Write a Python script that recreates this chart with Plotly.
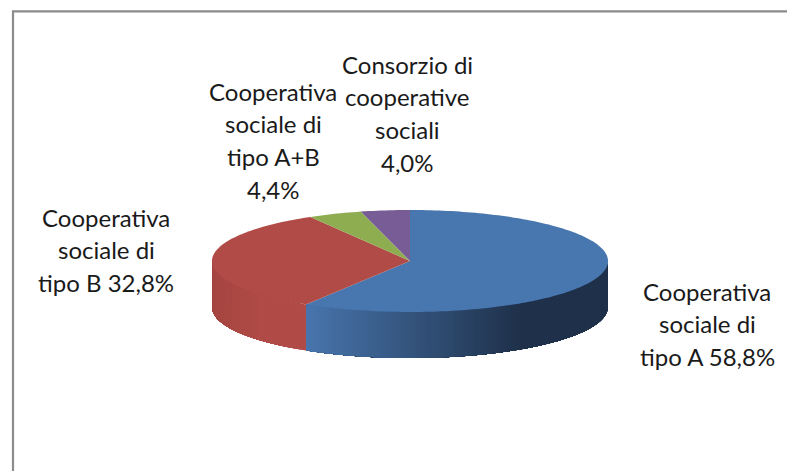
import math
import plotly.graph_objects as go

W, H = 787, 471

categories = ["Cooperativa sociale di tipo A", "Cooperativa sociale di tipo B",
              "Cooperativa sociale di tipo A+B", "Consorzio di cooperative sociali"]
values = [58.8, 32.8, 4.4, 4.0]
value_labels = ["58,8%", "32,8%", "4,4%", "4,0%"]
colors = ["#4876AE", "#B14B47", "#8EAC50", "#775C96"]

# pixel geometry of the tilted pie
cx, cy = 410, 261
rx, ry = 198, 51
depth = 46


def point(a, drop=0):
    # a in degrees, clockwise from 12 o'clock
    r = math.radians(a)
    return cx + rx * math.sin(r), cy - ry * math.cos(r) + drop


def blend(c1, c2, t):
    return "rgb(%d,%d,%d)" % tuple(round(p + (q - p) * t) for p, q in zip(c1, c2))


fig = go.Figure()

# frame of the chart area
fig.add_trace(go.Scatter(x=[13, 13, 787], y=[471, 11.3, 11.3], mode="lines",
                         line=dict(color="#8C8C8C", width=2.2), hoverinfo="skip"))

# angles of the slices
angles = [0]
for v in values:
    angles.append(angles[-1] + v / sum(values) * 360)


def wall(a0, a1, shade):
    # each strip runs to the end of the wall so no seams show between strips
    a = a0
    while a < a1:
        pts = [point(a + (a1 - a) * i / 40) for i in range(41)]
        pts += [point(a1 - (a1 - a) * i / 40, depth) for i in range(41)]
        col = shade(point(a)[0])
        fig.add_trace(go.Scatter(x=[p[0] for p in pts], y=[p[1] for p in pts], mode="none",
                                 fill="toself", fillcolor=col, hoverinfo="skip"))
        a += 1


# side wall, only the front half shows
wall(90, angles[1], lambda x: blend((31, 49, 74), (72, 118, 174),
                                    min(1, max(0, (522 - x) / (522 - 306)))))
wall(angles[1], 270, lambda x: blend((176, 75, 71), (165, 69, 65),
                                     min(1, max(0, (262 - x) / 50))))

# top face
for i, name in enumerate(categories):
    n = max(2, int(values[i] * 3))
    pts = [point(angles[i] + (angles[i + 1] - angles[i]) * k / n) for k in range(n + 1)]
    xs = [cx] + [p[0] for p in pts] + [cx]
    ys = [cy] + [p[1] for p in pts] + [cy]
    fig.add_trace(go.Scatter(x=xs, y=ys, mode="none", fill="toself", fillcolor=colors[i],
                             name=name,
                             hovertemplate=name + " " + value_labels[i] + "<extra></extra>"))

# data labels, one annotation per line because the line pitch is wider than plotly's
label_lines = [["Cooperativa", "sociale di", "tipo A " + value_labels[0]],
               ["Cooperativa", "sociale di", "tipo B " + value_labels[1]],
               ["Cooperativa", "sociale di", "tipo A+B", value_labels[2]],
               ["Consorzio di", "cooperative", "sociali", value_labels[3]]]
label_pos = [(707, 291), (106, 217), (273, 91), (407, 64)]
pitch = 32.8
for lines, (lx, ly) in zip(label_lines, label_pos):
    for k, txt in enumerate(lines):
        fig.add_annotation(x=lx, y=ly + k * pitch, text=txt, showarrow=False, xref="x", yref="y",
                           font=dict(family="Lato", size=24, color="#1A1A1A"), align="center")

fig.update_xaxes(range=[0, W], visible=False, fixedrange=True)
fig.update_yaxes(range=[H, 0], visible=False, fixedrange=True)
fig.update_layout(width=W, height=H, margin=dict(l=0, r=0, t=0, b=0), showlegend=False,
                  paper_bgcolor="white", plot_bgcolor="white")

# the page's default body margin would push the chart out of the window
fig.write_html("out.html", config=dict(displayModeBar=False),
               post_script="document.body.style.margin='0';document.documentElement.style.overflow='hidden';")
